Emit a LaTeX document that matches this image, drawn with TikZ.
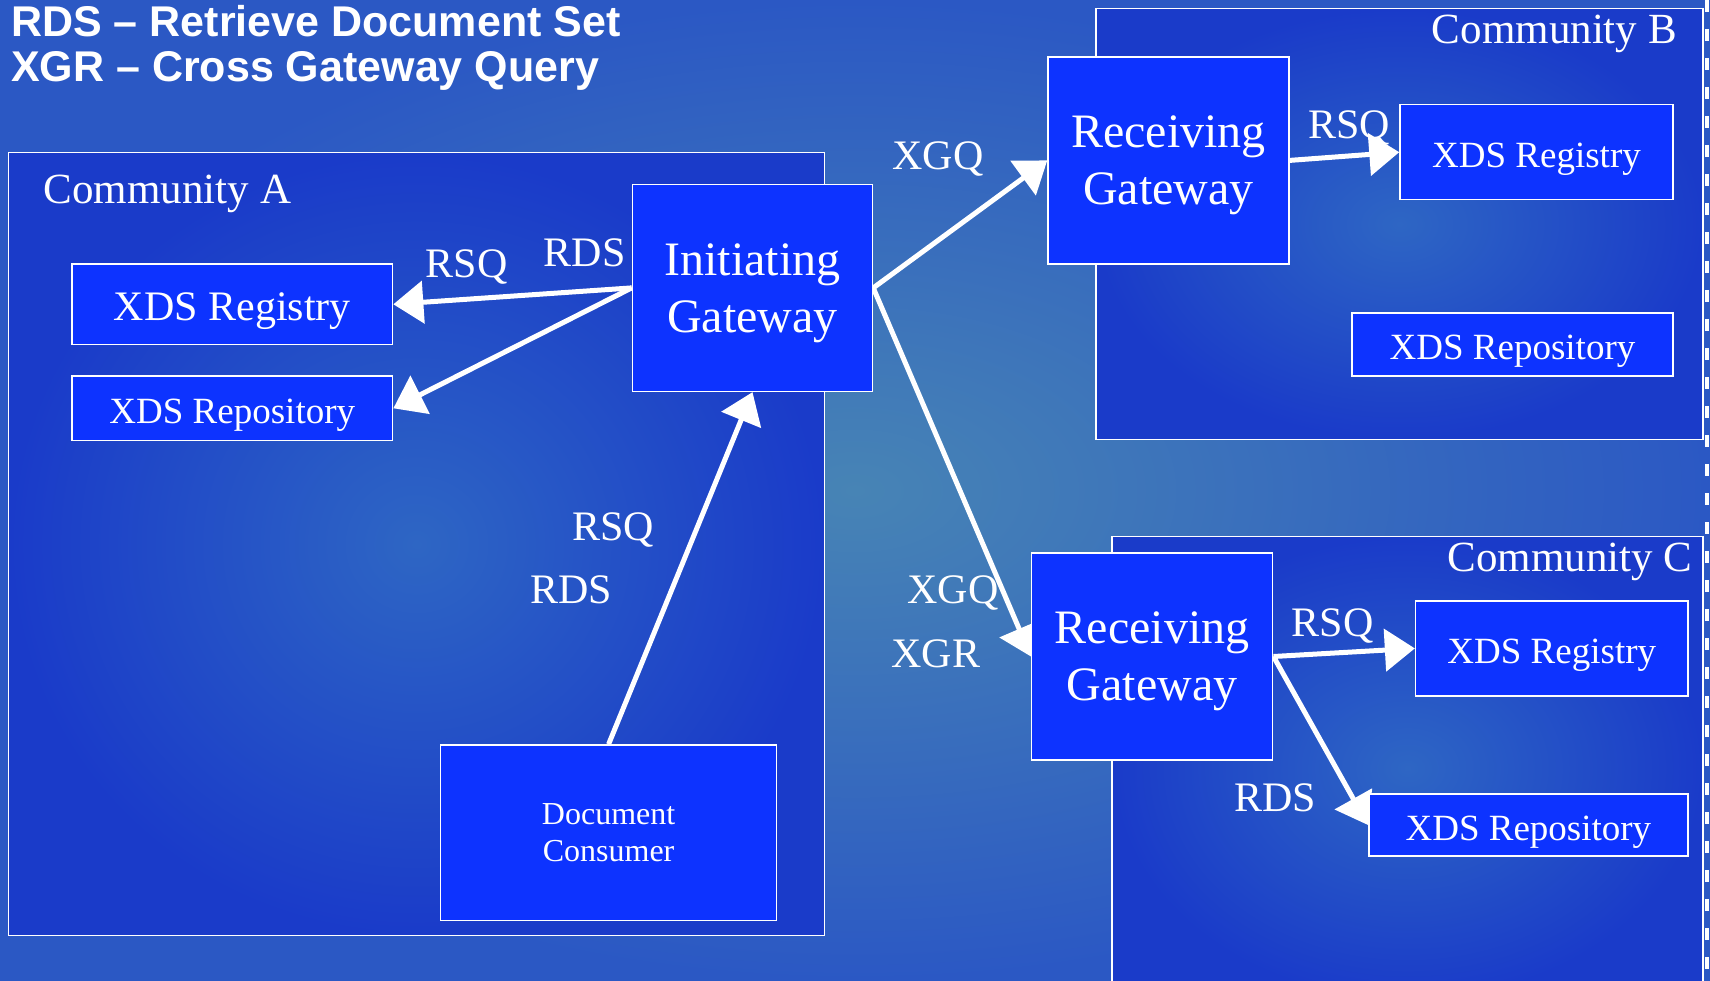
\documentclass[tikz,border=0pt]{standalone}
\usepackage{fontspec}
\setmainfont{Liberation Serif}
\newfontfamily\titlefont{Liberation Sans}
\usetikzlibrary{arrows.meta,backgrounds}
\definecolor{bgouter}{HTML}{2B58C4}
\definecolor{bginner}{HTML}{4784B5}
\definecolor{commouter}{HTML}{1A3BC9}
\definecolor{comminner}{HTML}{2E66C4}
\definecolor{boxblue}{HTML}{0D33FF}

\begin{document}
\begin{tikzpicture}[x=1pt, y=-1pt]
    \tikzstyle{actor_box}=[draw=white, line width=1.5pt, fill=boxblue, text=white, align=center, inner sep=0pt]
    \tikzstyle{gw_box}=[actor_box, minimum width=240pt, minimum height=207pt, text depth=0pt, font=\fontsize{48}{57}\selectfont]
    \tikzstyle{xds_box}=[actor_box, text height=30pt, text depth=0pt, font=\fontsize{37}{42}\selectfont]
    \tikzstyle{flow}=[draw=white, line width=5pt, -{Triangle[length=30pt,width=42pt]}]
    \tikzstyle{flow_label}=[text=white, anchor=base, font=\fontsize{42}{48}\selectfont]
    \tikzstyle{comm_frame}=[draw=white, line width=1.5pt]
    \tikzstyle{comm_label}=[text=white, inner sep=0pt, font=\fontsize{43}{48}\selectfont]
    \tikzstyle{legend_text}=[text=white, inner sep=0pt, anchor=base west, font=\titlefont\bfseries\fontsize{43}{45}\selectfont]

    \useasboundingbox (0,0) rectangle (1710,981);
    \clip (0,0) rectangle (1710,981);

    % --- backdrop and communities ---
    \begin{scope}[on background layer]
      \shade[inner color=bginner, outer color=bgouter] (0,0) rectangle (1710,981);
      \shade[comm_frame, inner color=comminner, outer color=commouter] (8.7,152.7) rectangle (824.5,935.7);
      \shade[comm_frame, inner color=comminner, outer color=commouter] (1096,8.7) rectangle (1703,439.5);
      \shade[comm_frame, inner color=comminner, outer color=commouter] (1112,536.6) rectangle (1703,1000);
      \draw[white, line width=4pt, dash pattern=on 12pt off 17pt] (1707,0) -- (1707,981);
    \end{scope}

    % --- legend ---
    \node[legend_text] (legend_rds) at (11,36.7) {RDS – Retrieve Document Set};
    \node[legend_text] (legend_xgr) at (11,81.7) {XGR – Cross Gateway Query};

    \node[comm_label, anchor=base west] (comm_a) at (43.6,204) {Community A};
    \node[comm_label, anchor=base east] (comm_b) at (1677,43.5) {Community B};
    \node[comm_label, anchor=base east] (comm_c) at (1692.6,571) {Community C};

    % --- community A ---
    \node[gw_box] (ig) at (752.5,287.9) {Initiating\\Gateway};
    \node[xds_box, minimum width=320.6pt, minimum height=80.6pt, text height=33pt, font=\fontsize{42}{48}\selectfont] (reg_a) at (232.3,304.3) {XDS Registry};
    \node[xds_box, minimum width=320.6pt, minimum height=64.6pt] (repo_a) at (232.3,408.3) {XDS Repository};
    \node[actor_box, minimum width=336pt, minimum height=175.5pt, font=\fontsize{32}{37}\selectfont] (dc) at (608.6,832.7) {Document\\Consumer};

    % --- community B ---
    \node[gw_box, minimum width=241pt] (rg_b) at (1168.5,160.4) {Receiving\\Gateway};
    \node[xds_box, minimum width=273pt, minimum height=95pt] (reg_b) at (1536.5,152.2) {XDS Registry};
    \node[xds_box, minimum width=321pt, minimum height=63pt] (repo_b) at (1512.5,344.5) {XDS Repository};

    % --- community C ---
    \node[gw_box, minimum width=241pt] (rg_c) at (1152.2,656.5) {Receiving\\Gateway};
    \node[xds_box, minimum width=272.4pt, minimum height=94.8pt] (reg_c) at (1551.8,648.4) {XDS Registry};
    \node[xds_box, minimum width=319.3pt, minimum height=62pt] (repo_c) at (1528.4,825) {XDS Repository};

    % --- transactions ---
    \begin{scope}[on background layer]
      \draw[flow] (ig.west) -- (reg_a.east);
      \draw[flow] (ig.west) -- (repo_a.east);
      \draw[flow] (dc.north) -- (ig.south);
      \draw[flow] (ig.east) -- (rg_b.west);
      \draw[flow] (ig.east) -- (rg_c.west);
      \draw[flow] (rg_b.east) -- (reg_b.west);
      \draw[flow] (rg_c.east) -- (reg_c.west);
      \draw[flow] (rg_c.east) -- (repo_c.west);
    \end{scope}

    \node[flow_label] (lbl_rsq_a) at (466.8,278) {RSQ};
    \node[flow_label] (lbl_rds_a) at (584.6,267) {RDS};
    \node[flow_label] (lbl_rsq_dc) at (613,540) {RSQ};
    \node[flow_label] (lbl_rds_dc) at (571.5,603) {RDS};
    \node[flow_label] (lbl_xgq_b) at (938,170) {XGQ};
    \node[flow_label] (lbl_rsq_b) at (1349,139) {RSQ};
    \node[flow_label] (lbl_xgq_c) at (953,603) {XGQ};
    \node[flow_label] (lbl_xgr_c) at (935.7,667) {XGR};
    \node[flow_label] (lbl_rsq_c) at (1332.7,636) {RSQ};
    \node[flow_label] (lbl_rds_c) at (1275,811) {RDS};
  \end{tikzpicture}
\end{document}
